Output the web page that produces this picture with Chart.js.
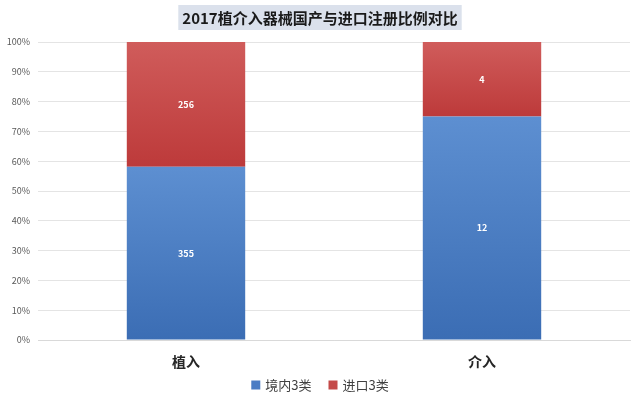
<!DOCTYPE html>
<html>
<head>
<meta charset="utf-8">
<script src="https://cdn.jsdelivr.net/npm/chart.js@4"></script>
<style>
  body { margin: 0; background: #fff; }
  #wrap { width: 640px; height: 410px; }
</style>
</head>
<body>
<div id="wrap"><canvas id="chart" width="640" height="410"></canvas></div>
<script>
const titleText = "2017植介入器械国产与进口注册比例对比";
const categories = ["植入", "介入"];
const domestic = [355, 12];
const imported = [256, 4];
const seriesNames = ["境内3类", "进口3类"];
const yTicks = [0, 10, 20, 30, 40, 50, 60, 70, 80, 90, 100];

// top / bottom shade of each segment
const colors = {
  domestic: ["#5d8fd1", "#3b6db4"],
  imported: ["#d05c5b", "#bd3a3a"],
  legend: ["#4a7cc4", "#c44a49"],
};

const FONT = "'Noto Sans CJK SC', 'Noto Sans', sans-serif";

// share of each category, so the bars fill to 100%
const totals = domestic.map((v, i) => v + imported[i]);
const pct = (arr) => arr.map((v, i) => (v / totals[i]) * 100);
const domPct = pct(domestic);
const impPct = pct(imported);

function segFill(shades, lowOf, highOf) {
  return (c) => {
    const chart = c.chart;
    const y = chart.scales.y;
    if (!chart.chartArea || !y || c.dataIndex === undefined) return shades[1];
    const top = y.getPixelForValue(highOf(c.dataIndex));
    const bottom = y.getPixelForValue(lowOf(c.dataIndex));
    if (!isFinite(top) || !isFinite(bottom) || top === bottom) return shades[1];
    const g = chart.ctx.createLinearGradient(0, top, 0, bottom);
    g.addColorStop(0, shades[0]);
    g.addColorStop(1, shades[1]);
    return g;
  };
}

const titlePlugin = {
  id: "titleBox",
  beforeDraw(chart) {
    const ctx = chart.ctx;
    ctx.save();
    ctx.font = "bold 15px " + FONT;
    const w = ctx.measureText(titleText).width;
    const cx = 320;
    ctx.fillStyle = "#dbe1ec";
    ctx.fillRect(cx - w / 2 - 4, 5, w + 8, 25);
    ctx.fillStyle = "#1a1a1a";
    ctx.textAlign = "center";
    ctx.textBaseline = "middle";
    ctx.fillText(titleText, cx, 18);
    ctx.restore();
  },
};

// legend drawn by hand so the item spacing can match
const legendPlugin = {
  id: "bottomLegend",
  afterDraw(chart) {
    const ctx = chart.ctx;
    const box = 9, gapText = 5, gapItem = 17, y = 385;
    ctx.save();
    ctx.font = "13px " + FONT;
    ctx.textBaseline = "middle";
    const items = chart.data.datasets.map((ds, i) => ({
      text: ds.label,
      color: colors.legend[i],
      w: box + gapText + ctx.measureText(ds.label).width,
    }));
    const total = items.reduce((s, it) => s + it.w, 0) + gapItem * (items.length - 1);
    let x = 320 - total / 2;
    items.forEach((it) => {
      ctx.fillStyle = it.color;
      ctx.fillRect(x, y - box / 2, box, box);
      ctx.fillStyle = "#404040";
      ctx.fillText(it.text, x + box + gapText, y);
      x += it.w + gapItem;
    });
    ctx.restore();
  },
};

const valueLabels = {
  id: "valueLabels",
  afterDatasetsDraw(chart) {
    const ctx = chart.ctx;
    const raws = [domestic, imported];
    ctx.save();
    ctx.font = "bold 9px " + FONT;
    ctx.fillStyle = "#ffffff";
    ctx.textAlign = "center";
    ctx.textBaseline = "middle";
    chart.data.datasets.forEach((ds, di) => {
      chart.getDatasetMeta(di).data.forEach((bar, i) => {
        const mid = (bar.y + bar.base) / 2;
        ctx.fillText(String(raws[di][i]), bar.x, mid);
      });
    });
    ctx.restore();
  },
};

new Chart(document.getElementById("chart"), {
  type: "bar",
  data: {
    labels: categories,
    datasets: [
      {
        label: seriesNames[0],
        data: domPct,
        backgroundColor: segFill(colors.domestic, () => 0, (i) => domPct[i]),
        borderWidth: 0,
        categoryPercentage: 1,
        barPercentage: 0.4,
      },
      {
        label: seriesNames[1],
        data: impPct,
        backgroundColor: segFill(colors.imported, (i) => domPct[i], () => 100),
        borderWidth: 0,
        categoryPercentage: 1,
        barPercentage: 0.4,
      },
    ],
  },
  options: {
    responsive: false,
    animation: false,
    layout: { padding: { top: 42, left: 0, right: 10, bottom: 38 } },
    plugins: {
      title: { display: false },
      tooltip: { enabled: false },
      legend: { display: false },
    },
    scales: {
      x: {
        stacked: true,
        afterFit(scale) { scale.height = 32; },
        grid: { display: false, drawTicks: false },
        border: { color: "#d9d9d9" },
        ticks: {
          color: "#262626",
          padding: 13,
          font: { family: FONT, size: 14, weight: "bold" },
        },
      },
      y: {
        stacked: true,
        min: 0,
        max: 100,
        afterFit(scale) { scale.width = 38; },
        afterBuildTicks(scale) { scale.ticks = yTicks.map((v) => ({ value: v })); },
        grid: { color: "#e4e4e4", drawTicks: false },
        border: { display: false },
        ticks: {
          color: "#595959",
          padding: 8,
          font: { family: FONT, size: 9 },
          callback: (v) => v + "%",
        },
      },
    },
  },
  plugins: [titlePlugin, legendPlugin, valueLabels],
});
</script>
</body>
</html>
